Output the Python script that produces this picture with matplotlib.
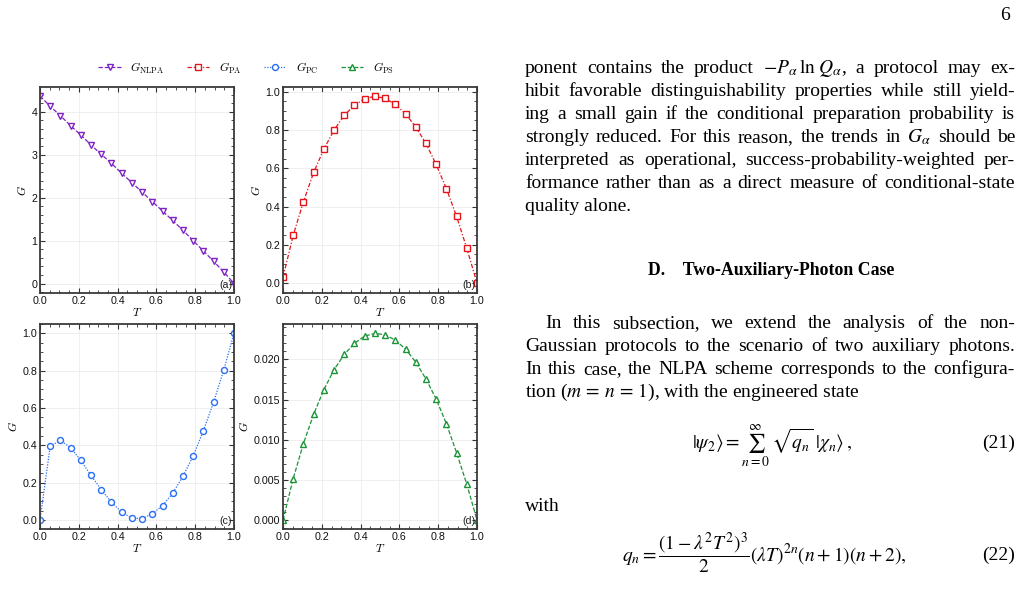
import matplotlib
matplotlib.use("Agg")
import matplotlib.pyplot as plt
from matplotlib.ticker import AutoMinorLocator, FormatStrFormatter
from matplotlib.lines import Line2D
from matplotlib.font_manager import FontProperties

# ---- data (20 points, T from 0 to 1) ----
T = [i / 19 for i in range(20)]
G_nlpa = [4.37, 4.13, 3.91, 3.68, 3.46, 3.23, 3.01, 2.80, 2.57, 2.35,
          2.13, 1.91, 1.69, 1.47, 1.24, 1.00, 0.76, 0.52, 0.27, 0.00]
G_pa = [0.03, 0.25, 0.425, 0.578, 0.70, 0.80, 0.877, 0.93, 0.964, 0.976,
        0.966, 0.934, 0.885, 0.816, 0.73, 0.62, 0.494, 0.348, 0.182, 0.00]
G_pc = [0.00, 0.396, 0.427, 0.387, 0.319, 0.239, 0.163, 0.095, 0.042, 0.010,
        0.008, 0.034, 0.077, 0.144, 0.234, 0.343, 0.478, 0.631, 0.804, 1.00]
G_ps = [0.0, 0.00518, 0.00952, 0.01317, 0.01623, 0.01872, 0.02062, 0.02199,
        0.0229, 0.02323, 0.02306, 0.0224, 0.02128, 0.01967, 0.01756, 0.01507,
        0.0120, 0.0084, 0.00447, 0.0]

labels = [r"$G_{\rm NLPA}$", r"$G_{\rm PA}$", r"$G_{\rm PC}$", r"$G_{\rm PS}$"]
colors = ["#7d22c4", "#e3151b", "#2a6ef5", "#1a9436"]
styles = [(0, (3.5, 1.5)), (0, (3.5, 1.5, 1, 1.5)), (0, (1, 1.2)), (0, (3.5, 1.5))]
markers = ["v", "s", "o", "^"]
panel_tags = ["(a)", "(b)", "(c)", "(d)"]
ylims = [(-0.22, 4.58), (-0.052, 1.025), (-0.048, 1.05), (-0.0011, 0.0244)]
yminor = [5, 4, 4, 5]
yfmt = ["%d", "%.1f", "%.1f", "%.3f"]

W, H = 1022, 592
fig = plt.figure(figsize=(W / 100, H / 100), dpi=100)

def fx(px):
    return px / W

def fy(py):
    return 1 - py / H

# axes boxes in pixels: left, top, right, bottom
boxes = [(40, 87, 234, 293), (283, 87, 477, 293),
         (40, 324, 234, 529), (283, 324, 477, 529)]
series = [G_nlpa, G_pa, G_pc, G_ps]

tick_font = ["Liberation Sans", "DejaVu Sans"]
for i, (l, t, r, b) in enumerate(boxes):
    ax = fig.add_axes([fx(l), fy(b), fx(r) - fx(l), fy(t) - fy(b)])
    ax.plot(T, series[i], color=colors[i], linestyle=styles[i], lw=0.9,
            marker=markers[i], markersize=4.3, markerfacecolor="white",
            markeredgecolor=colors[i], markeredgewidth=1.0)
    ax.set_xlim(0, 1)
    ax.set_ylim(*ylims[i])
    ax.set_xticks([0, 0.2, 0.4, 0.6, 0.8, 1.0])
    ax.xaxis.set_major_formatter(FormatStrFormatter("%.1f"))
    ax.yaxis.set_major_formatter(FormatStrFormatter(yfmt[i]))
    ax.xaxis.set_minor_locator(AutoMinorLocator(4))
    ax.yaxis.set_minor_locator(AutoMinorLocator(yminor[i]))
    ax.tick_params(which="both", direction="in", top=True, right=True,
                   color="#333333", labelsize=7.7, pad=2, labelcolor="#111111")
    ax.tick_params(which="major", length=3.5, width=0.8)
    ax.tick_params(which="minor", length=2, width=0.6)
    for lab in ax.get_xticklabels() + ax.get_yticklabels():
        lab.set_family(tick_font)
    ax.grid(True, which="major", color="#ececec", lw=0.6)
    ax.set_axisbelow(True)
    for s in ax.spines.values():
        s.set_color("#3a3a3a")
        s.set_linewidth(1.3)
    ax.set_xlabel(r"$T$", labelpad=0,
                  fontproperties=FontProperties(size=8.5, math_fontfamily="cm"))
    ax.set_ylabel(r"$G$", labelpad=2,
                  fontproperties=FontProperties(size=8.5, math_fontfamily="cm"))
    ax.text(0.99, 0.015, panel_tags[i], transform=ax.transAxes, ha="right",
            va="bottom", fontsize=7.7, family=tick_font, color="#222222")

handles = [Line2D([], [], color=colors[i], linestyle=styles[i], lw=0.9,
                  marker=markers[i], markersize=4.3, markerfacecolor="white",
                  markeredgecolor=colors[i], markeredgewidth=1.0)
           for i in range(4)]
fig.legend(handles, labels, loc="center", bbox_to_anchor=(fx(246), fy(68)),
           ncol=4, frameon=False, handlelength=1.9, columnspacing=1.9,
           handletextpad=0.8,
           prop=FontProperties(size=8.5, math_fontfamily="cm"))

# ---- right-hand text column ----
serif = ["Liberation Serif", "DejaVu Serif"]
fs = 14
x0, x1 = 525, 1015
renderer = fig.canvas.get_renderer()

def place_line(s, y, xl=x0, justify=True):
    if not justify:
        fig.text(fx(xl), fy(y), s, family=serif, fontsize=fs, va="baseline",
                 math_fontfamily="stix")
        return
    words = s.split(" ")
    objs = [fig.text(0, fy(y), w, family=serif, fontsize=fs, va="baseline",
                     math_fontfamily="stix") for w in words]
    widths = [o.get_window_extent(renderer).width for o in objs]
    gap = (x1 - xl - sum(widths)) / (len(words) - 1)
    x = xl
    for o, w in zip(objs, widths):
        o.set_x(fx(x))
        x += w + gap

para1 = [
    r"ponent contains the product $-P_\alpha\,\ln\,Q_\alpha$, a protocol may ex-",
    "hibit favorable distinguishability properties while still yield-",
    "ing a small gain if the conditional preparation probability is",
    r"strongly reduced. For this reason, the trends in $G_\alpha$ should be",
    "interpreted as operational, success-probability-weighted per-",
    "formance rather than as a direct measure of conditional-state",
]
for k, line in enumerate(para1):
    place_line(line, 73 + 23 * k)
place_line("quality alone.", 73 + 23 * 6, justify=False)

fig.text(fx(771), fy(275), "D.    Two-Auxiliary-Photon Case", family=serif,
         fontsize=12.8, weight="bold", ha="center", va="baseline")

para2 = [
    "In this subsection, we extend the analysis of the non-",
    "Gaussian protocols to the scenario of two auxiliary photons.",
    "In this case, the NLPA scheme corresponds to the configura-",
]
place_line(para2[0], 328, xl=545)
place_line(para2[1], 351)
place_line(para2[2], 374)
place_line(r"tion ($m\,=\,n\,=\,1$), with the engineered state", 397, justify=False)

fig.text(fx(772), fy(449),
         r"$|\psi_2\rangle = \sum_{n=0}^{\infty}\,\sqrt{q_n}\;|\chi_n\rangle\,,$",
         family=serif, fontsize=fs, ha="center", va="baseline",
         math_fontfamily="stix")
fig.text(fx(x1), fy(448), "(21)", family=serif, fontsize=fs, ha="right",
         va="baseline")
place_line("with", 511, justify=False)
fig.text(fx(764), fy(562),
         r"$q_n = \dfrac{(1-\lambda^2T^2)^3}{2}(\lambda T)^{2n}(n+1)(n+2),$",
         family=serif, fontsize=fs, ha="center", va="baseline",
         math_fontfamily="stix")
fig.text(fx(x1), fy(560), "(22)", family=serif, fontsize=fs, ha="right",
         va="baseline")

fig.text(fx(1010), fy(20), "6", family=serif, fontsize=14, ha="right",
         va="baseline")

fig.savefig("out.png", dpi=100)
